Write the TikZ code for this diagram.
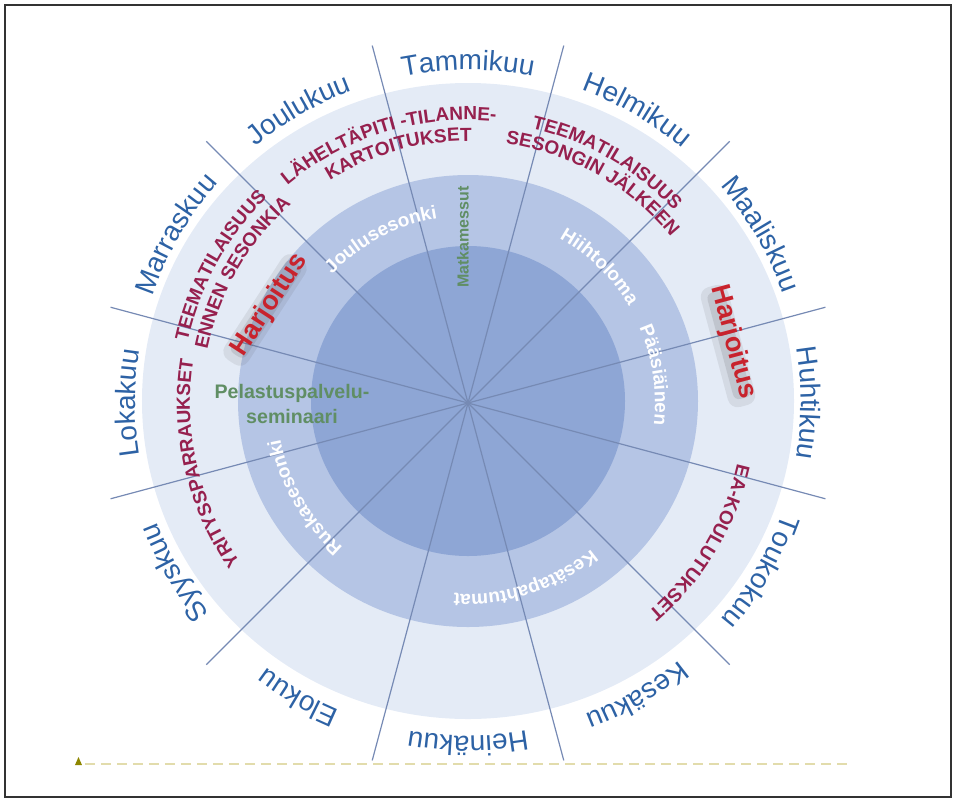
\documentclass[tikz,border=0pt]{standalone}
\usepackage{fontspec}
\setmainfont{Liberation Sans}
\usepackage{xcolor}
\usetikzlibrary{decorations.text, positioning}

\definecolor{monthblue}{RGB}{45,98,165}
\definecolor{eventred}{RGB}{150,32,78}
\definecolor{drillred}{RGB}{200,35,45}
\definecolor{fairgreen}{RGB}{96,142,100}
\definecolor{ringlight}{RGB}{228,235,246}
\definecolor{ringmid}{RGB}{181,197,229}
\definecolor{ringdark}{RGB}{142,166,213}
\definecolor{spokeblue}{RGB}{118,138,180}
\definecolor{rulekhaki}{RGB}{226,220,172}

\newcommand{\monthfont}{\fontsize{14}{16}\selectfont\color{monthblue}}
\newcommand{\eventfont}{\fontsize{9.5}{11}\selectfont\bfseries\color{eventred}}
\newcommand{\seasonfont}{\fontsize{9.5}{11}\selectfont\bfseries\color{white}}

% radius, mid angle, half span, font, text
\newcommand{\arclabel}[5]{%
  \path[decorate, decoration={text along path, text align=center,
        text/.expanded={|\noexpand#4|#5}}]
    (#2+#3:#1) arc[start angle=#2+#3, end angle=#2-#3, radius=#1];}

\tikzset{
  spoke/.style={spokeblue, line width=0.6pt},
  drill/.style={text=drillred, font=\fontsize{13.5}{15}\selectfont\bfseries, inner sep=1pt},
  drillshade/.style={fill=black!70, opacity=0.1, rounded corners=5pt, inner sep=0pt,
    minimum width=62pt, minimum height=14pt},
  drillcore/.style={fill=black!70, opacity=0.14, rounded corners=3pt, inner sep=0pt,
    minimum width=55pt, minimum height=9pt},
  fair/.style={text=fairgreen, font=\fontsize{9.8}{12.5}\selectfont\bfseries, inner sep=1pt}
}

\begin{document}
\begin{tikzpicture}[x=0.5pt, y=0.5pt]
  \useasboundingbox (-468,-397) rectangle (488,403);
  \draw[black!80, line width=0.8pt] (-463,398) rectangle (483,-394);

  \coordinate (hub) at (0,0);
  % the three discs
  \fill[ringlight] (0,2) ellipse[x radius=326, y radius=318];
  \fill[ringmid] (0,2) ellipse[x radius=230, y radius=226];
  \fill[ringdark] (0,2) ellipse[x radius=157, y radius=155];

  % month borders
  \foreach \a in {15,45,...,345} {
    \coordinate (rim\a) at (\a:370);
    \draw[spoke] (hub) -- (rim\a);
  }

  % months
  \foreach \m [count=\i from 0] in {Tammikuu,Helmikuu,Maaliskuu,Huhtikuu,Toukokuu,Kesäkuu,Heinäkuu,Elokuu,Syyskuu,Lokakuu,Marraskuu,Joulukuu}
    \arclabel{333}{90-30*\i}{40}{\monthfont}{\m};

  % events
  \arclabel{283}{107}{40}{\eventfont}{LÄHELTÄPITI -TILANNE-}
  \arclabel{262}{105.5}{40}{\eventfont}{KARTOITUKSET}
  \arclabel{282}{60}{40}{\eventfont}{TEEMATILAISUUS}
  \arclabel{262}{60.5}{40}{\eventfont}{SESONGIN JÄLKEEN}
  \arclabel{287}{151}{40}{\eventfont}{TEEMATILAISUUS}
  \arclabel{266}{150}{40}{\eventfont}{ENNEN SESONKIA}
  \arclabel{278}{193}{40}{\eventfont}{YRITYSSPARRAUKSET}
  \arclabel{276}{-31}{40}{\eventfont}{EA-KOULUTUKSET}

  % seasons
  \arclabel{187}{118}{45}{\seasonfont}{Joulusesonki}
  \arclabel{188}{46}{45}{\seasonfont}{Hiihtoloma}
  \arclabel{187}{8.5}{45}{\seasonfont}{Pääsiäinen}
  \arclabel{191}{-72}{45}{\seasonfont}{Kesätapahtumat}
  \arclabel{191}{210}{45}{\seasonfont}{Ruskasesonki}

  \node[drillshade, rotate=57] (drillwestshade) at (-203,93) {};
  \node[drillcore, rotate=57] (drillwestcore) at (-202,94) {};
  \node[drill, rotate=57] (drillwest) at (-198,98) {Harjoitus};
  \node[drillshade, rotate=-75] (drilleastshade) at (260,57) {};
  \node[drillcore, rotate=-75] (drilleastcore) at (261,58) {};
  \node[drill, rotate=-75] (drilleast) at (265,61) {Harjoitus};

  \node[fair, font=\fontsize{8}{10}\selectfont\bfseries, rotate=90] (fairtravel) at (-5,166) {Matkamessut};
  \node[fair, align=center] (fairrescue) at (-176,-1) {Pelastuspalvelu-\\seminaari};

  % rule under the wheel
  \coordinate (rulestart) at (-383,-361);
  \coordinate (ruleend) at (382,-361);
  \draw[rulekhaki, line width=0.6pt, dash pattern=on 5pt off 3pt] (rulestart) -- (ruleend);
  \fill[olive] (-393,-362) -- (-386,-362) -- (-389.5,-354) -- cycle;
\end{tikzpicture}
\end{document}
